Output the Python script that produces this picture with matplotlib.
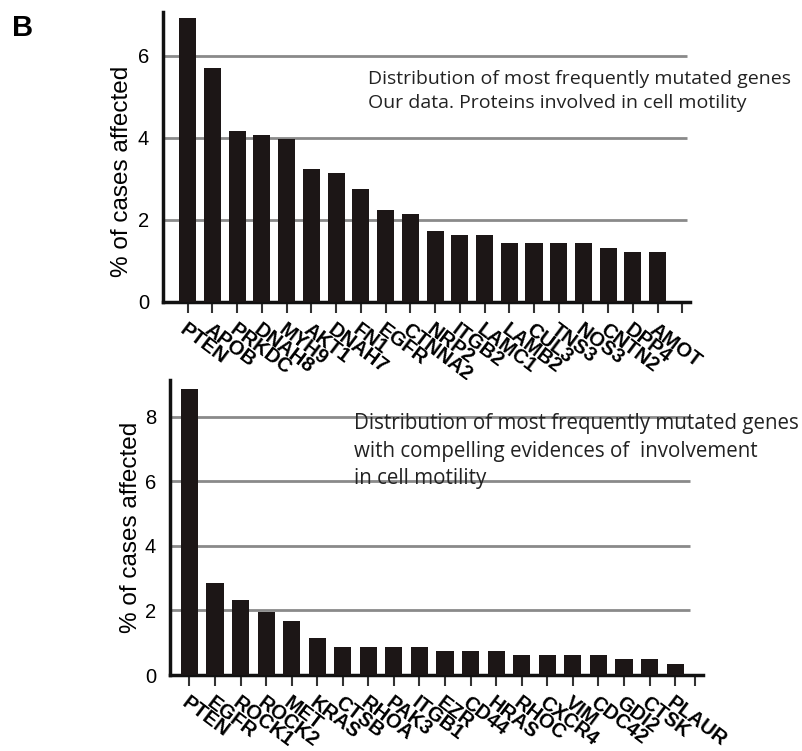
import matplotlib
matplotlib.use("Agg")
import matplotlib.pyplot as plt
import matplotlib.transforms as mtransforms

# top panel: our data, proteins involved in cell motility
top_genes = ['PTEN', 'APOB', 'PRKDC', 'DNAH8', 'MYH9', 'AKT1', 'DNAH7', 'FN1', 'EGFR', 'CTNNA2',
             'NRP2', 'ITGB2', 'LAMC1', 'LAMB2', 'CUL3', 'TNS3', 'NOS3', 'CNTN2', 'DPP4', 'AMOT']
top_pct = [6.93, 5.70, 4.17, 4.07, 3.98, 3.25, 3.15, 2.75, 2.23, 2.14,
           1.72, 1.63, 1.63, 1.44, 1.44, 1.44, 1.44, 1.32, 1.22, 1.22]

# bottom panel: compelling evidence of involvement in cell motility
bot_genes = ['PTEN', 'EGFR', 'ROCK1', 'ROCK2', 'MET', 'KRAS', 'CTSB', 'RHOA', 'PAK3', 'ITGB1',
             'EZR', 'CD44', 'HRAS', 'RHOC', 'CXCR4', 'VIM', 'CDC42', 'GDI2', 'CTSK', 'PLAUR']
bot_pct = [8.85, 2.85, 2.32, 1.95, 1.67, 1.15, 0.88, 0.88, 0.88, 0.88,
           0.75, 0.75, 0.75, 0.62, 0.62, 0.62, 0.62, 0.49, 0.49, 0.36]

top_note = "Distribution of most frequently mutated genes\nOur data. Proteins involved in cell motility"
bot_note = ("Distribution of most frequently mutated genes\n"
            "with compelling evidences of  involvement\nin cell motility")

bar_color = '#1c1616'
label_font = 'Liberation Sans'
note_font = 'Open Sans'

fig = plt.figure(figsize=(8.03, 7.51), dpi=100)


def panel(rect, genes, pct, ymax, yticks, xlim, width, extra_tick, grid_end,
          note, note_xy, note_size, label_xy):
    ax = fig.add_axes(rect)
    x = list(range(len(genes)))
    ax.bar(x, pct, width=width, color=bar_color, zorder=3)
    ax.set_xlim(*xlim)
    ax.set_ylim(0, ymax)
    ax.set_yticks(yticks)
    ax.set_yticklabels([str(t) for t in yticks], fontsize=14.5, family=label_font)
    ax.tick_params(axis='y', length=0, pad=10)
    ax.set_xticks(x + [extra_tick])
    ax.set_xticklabels(genes + [''], rotation=-37, ha='left', va='top',
                       rotation_mode='anchor', fontsize=14.5, family=label_font,
                       fontweight='bold')
    off = mtransforms.ScaledTranslation(-5 / 100, 0, fig.dpi_scale_trans)
    for lab in ax.get_xticklabels():
        lab.set_transform(lab.get_transform() + off)
    ax.tick_params(axis='x', length=8, width=1.5, color='#333333', pad=5)
    for s in ['top', 'right']:
        ax.spines[s].set_visible(False)
    for s in ['left', 'bottom']:
        ax.spines[s].set_linewidth(2.5)
        ax.spines[s].set_color('#111111')
    ax.hlines(yticks[1:], xlim[0], grid_end, color='#8a8a8a', linewidth=2, zorder=1)
    ax.set_ylabel('% of cases affected', fontsize=17.5, family=label_font)
    ax.yaxis.set_label_coords(*label_xy)
    ax.text(note_xy[0], note_xy[1], note, transform=fig.transFigure, fontsize=note_size,
            family=note_font, va='top', ha='left', linespacing=1.42, color='#222222', zorder=5)
    return ax


panel([0.203, 0.598, 0.656, 0.386], top_genes, top_pct, 7.07, [0, 2, 4, 6],
      (-1.0, 20.3), 0.69, 20, 20.2, top_note, (368 / 803, 1 - 70 / 751), 14.0,
      (-0.057, 0.45))
panel([0.2117, 0.101, 0.664, 0.393], bot_genes, bot_pct, 9.13, [0, 2, 4, 6, 8],
      (-0.76, 20.1), 0.67, 19.78, 19.6, bot_note, (354 / 803, 1 - 413 / 751), 14.8,
      (-0.053, 0.5))

fig.text(12 / 803, 1 - 36 / 751, 'B', fontsize=21, fontweight='bold', family=label_font)

fig.savefig('out.png', dpi=100)
